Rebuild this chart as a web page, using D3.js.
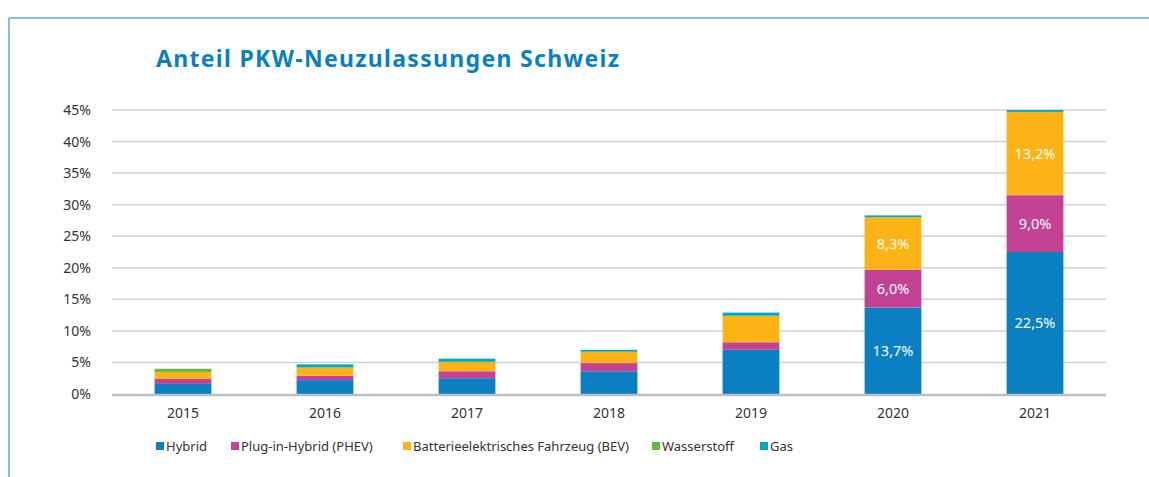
<!DOCTYPE html>
<html>
<head>
<meta charset="utf-8">
<script src="https://cdn.jsdelivr.net/npm/d3@7"></script>
<style>
  body { margin: 0; background: #fff; }
  svg { display: block; font-family: "Noto Sans", sans-serif; }
</style>
</head>
<body>
<div id="chart"></div>
<script>
// data (share of new car registrations, %)
const years = ['2015', '2016', '2017', '2018', '2019', '2020', '2021']
const hybrid = [1.6, 2.2, 2.5, 3.6, 7.0, 13.7, 22.5]
const phev = [0.8, 0.7, 1.1, 1.3, 1.2, 6.0, 9.0]
const bev = [1.1, 1.3, 1.5, 1.8, 4.2, 8.3, 13.2]
const hydrogen = [0.5, 0, 0, 0, 0, 0, 0]
const gas = [0, 0.5, 0.5, 0.3, 0.5, 0.3, 0.3]
const yTicks = [0, 5, 10, 15, 20, 25, 30, 35, 40, 45]

const seriesNames = ['Hybrid', 'Plug-in-Hybrid (PHEV)', 'Batterieelektrisches Fahrzeug (BEV)', 'Wasserstoff', 'Gas']
const seriesKeys = ['hybrid', 'phev', 'bev', 'hydrogen', 'gas']
const colors = ['#0a7fc2', '#c34296', '#fbb316', '#63b946', '#00a9bd']
// which series get a value label in which years
const labelled = { hybrid: ['2020', '2021'], phev: ['2020', '2021'], bev: ['2020', '2021'] }

const W = 1149, H = 477
const margin = {top: 110, right: 43, bottom: 83, left: 112}
const width = W - margin.left - margin.right
const height = H - margin.top - margin.bottom

const table = years.map((y, i) => ({
  year: y, hybrid: hybrid[i], phev: phev[i], bev: bev[i], hydrogen: hydrogen[i], gas: gas[i]
}))
const stacked = d3.stack().keys(seriesKeys)(table)

const svg = d3.select('#chart').append('svg')
  .attr('width', W)
  .attr('height', H)

// frame lines
svg.append('line').attr('x1', 9).attr('x2', W).attr('y1', 18).attr('y2', 18)
  .attr('stroke', '#5aa9dc').attr('stroke-width', 1.5)
svg.append('line').attr('x1', 9).attr('x2', 9).attr('y1', 18).attr('y2', H)
  .attr('stroke', '#5aa9dc').attr('stroke-width', 1.5)

// title
svg.append('text')
  .attr('x', 156).attr('y', 67)
  .attr('fill', '#0a7fc2')
  .attr('font-size', 23)
  .attr('font-weight', 700)
  .attr('textLength', 463)
  .text('Anteil PKW-Neuzulassungen Schweiz')

const g = svg.append('g').attr('transform', `translate(${margin.left},${margin.top})`)

const x = d3.scaleBand().domain(years).range([0, width]).paddingInner(0.6).paddingOuter(0.3)
const y = d3.scaleLinear().domain([0, 45]).range([height, 0])

// gridlines
g.append('g').selectAll('line').data(yTicks.filter(t => t > 0)).join('line')
  .attr('x1', 0).attr('x2', width)
  .attr('y1', d => y(d)).attr('y2', d => y(d))
  .attr('stroke', '#d2d2d2').attr('stroke-width', 1.5)

// y axis labels
const yAxis = g.append('g')
  .attr('transform', 'translate(-18,0)')
  .call(d3.axisLeft(y).tickValues(yTicks).tickSize(0).tickFormat(d => d + '%'))
yAxis.select('.domain').remove()
yAxis.selectAll('text')
  .attr('fill', '#333').attr('font-size', 14)
  .attr('font-family', '"Noto Sans", sans-serif')

// bars
g.append('g').selectAll('g').data(stacked).join('g')
  .attr('fill', (d, i) => colors[i])
  .selectAll('rect').data(d => d).join('rect')
    .attr('x', d => x(d.data.year))
    .attr('width', x.bandwidth())
    .attr('y', d => y(d[1]))
    .attr('height', d => y(d[0]) - y(d[1]))

// baseline
g.append('line').attr('x1', 0).attr('x2', width)
  .attr('y1', height + 1).attr('y2', height + 1)
  .attr('stroke', '#bdbdc2').attr('stroke-width', 2.5)

// value labels
stacked.forEach(s => {
  const yrs = labelled[s.key] || []
  g.append('g').selectAll('text').data(s.filter(d => yrs.includes(d.data.year))).join('text')
    .attr('x', d => x(d.data.year) + x.bandwidth() / 2)
    .attr('y', d => y((d[0] + d[1]) / 2))
    .attr('dy', '0.36em')
    .attr('text-anchor', 'middle')
    .attr('fill', '#fff')
    .attr('font-size', 14.5)
    .text(d => (d[1] - d[0]).toFixed(1).replace('.', ',') + '%')
})

// x axis labels
const xAxis = g.append('g')
  .attr('transform', `translate(0,${height + 11})`)
  .call(d3.axisBottom(x).tickSize(0))
xAxis.select('.domain').remove()
xAxis.selectAll('text')
  .attr('fill', '#333').attr('font-size', 14)
  .attr('font-family', '"Noto Sans", sans-serif')

// legend
const legendX = [156, 231, 403, 652, 760]
const legend = svg.append('g').selectAll('g').data(seriesNames).join('g')
  .attr('transform', (d, i) => `translate(${legendX[i]},446)`)
legend.append('rect').attr('x', 0).attr('y', -4).attr('width', 8).attr('height', 8)
  .attr('fill', (d, i) => colors[i])
legend.append('text').attr('x', 10).attr('dy', '0.35em')
  .attr('font-size', 13).attr('fill', '#333')
  .text(d => d)
</script>
</body>
</html>
